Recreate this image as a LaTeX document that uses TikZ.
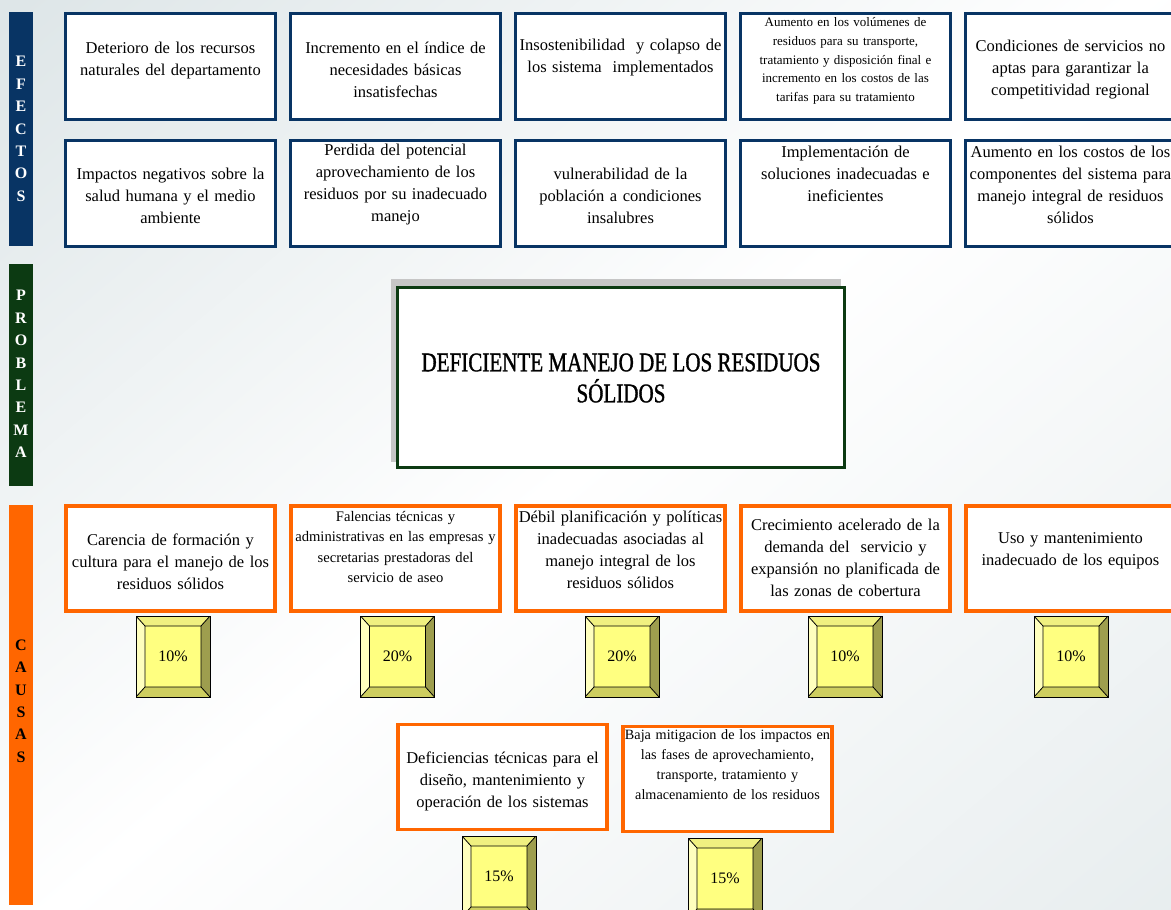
\documentclass[tikz,border=0pt]{standalone}
\usepackage{fontspec}
\setmainfont{Liberation Serif}
\newfontfamily\titulofont[FakeStretch=0.78,FakeBold=1.2]{Liberation Serif}
\usepackage{xcolor}
\definecolor{azul}{RGB}{8,52,100}
\definecolor{verde}{RGB}{12,58,18}
\definecolor{naranja}{RGB}{255,102,0}
\definecolor{fondo}{RGB}{222,230,232}
\definecolor{amarillo}{RGB}{255,255,128}
\definecolor{biselsup}{RGB}{240,240,128}
\definecolor{biselizq}{RGB}{255,255,190}
\definecolor{biselder}{RGB}{158,158,78}
\definecolor{biselinf}{RGB}{206,206,96}
\usetikzlibrary{positioning}

\begin{document}
\begin{tikzpicture}[x=1pt,y=-1pt,
	efecto/.style={draw=azul,line width=3pt,fill=white,minimum width=210pt,minimum height=106pt,inner sep=0pt},
	causa/.style={draw=naranja,line width=3.5pt,fill=white,minimum width=209pt,minimum height=105pt,inner sep=0pt},
	texto/.style={align=center,text width=208pt,inner sep=0pt,font=\fontsize{16.5}{22}\selectfont},
	chico/.style={align=center,text width=208pt,inner sep=0pt,font=\fontsize{13}{18.8}\selectfont},
	medio/.style={align=center,text width=208pt,inner sep=0pt,font=\fontsize{14.6}{20.5}\selectfont},
	barra/.style={minimum width=24pt,inner sep=0pt},
	letras/.style={align=center,inner sep=0pt,font=\bfseries\fontsize{16}{22.4}\selectfont},
	bisel/.style={draw=black,line width=0.9pt,fill=amarillo,minimum width=74pt,minimum height=81pt,inner sep=0pt,
		font=\fontsize{16}{18}\selectfont,
		path picture={
			\path (path picture bounding box.north west) coordinate (nw)
				(path picture bounding box.north east) coordinate (ne)
				(path picture bounding box.south east) coordinate (se)
				(path picture bounding box.south west) coordinate (sw);
			\path ([shift={(9pt,-10pt)}]nw) coordinate (inw)
				([shift={(-9pt,-10pt)}]ne) coordinate (ine)
				([shift={(-9pt,10pt)}]se) coordinate (ise)
				([shift={(9pt,10pt)}]sw) coordinate (isw);
			\fill[biselsup] (nw) -- (ne) -- (ine) -- (inw) -- cycle;
			\fill[biselizq] (nw) -- (inw) -- (isw) -- (sw) -- cycle;
			\fill[biselder] (ne) -- (se) -- (ise) -- (ine) -- cycle;
			\fill[biselinf] (sw) -- (isw) -- (ise) -- (se) -- cycle;
			\draw[line width=0.8pt] (inw) rectangle (ise) (nw) -- (inw) (ne) -- (ine) (se) -- (ise) (sw) -- (isw);
		}}]
	\useasboundingbox (0,0) rectangle (1171,910);
	\clip (0,0) rectangle (1171,910);
	\shade[top color=fondo,bottom color=fondo!70!white,middle color=white,shading angle=40] (-200,-200) rectangle (1400,1100);

	% barras laterales
	\node[barra,fill=azul,minimum height=234pt] (bef) at (21,129) {};
	\node[letras,text=white] (lef) at (21,129) {E\\F\\E\\C\\T\\O\\S};
	\node[barra,fill=verde,minimum height=222pt] (bpr) at (21,375) {};
	\node[letras,text=white] (lpr) at (21,374) {P\\R\\O\\B\\L\\E\\M\\A};
	\node[barra,fill=naranja,minimum height=400pt] (bca) at (21,705) {};
	\node[letras,text=black] (lca) at (21,701) {C\\A\\U\\S\\A\\S};

	% efectos
	\node[efecto] (e1) at (170.5,66.5) {};
	\node[efecto] (e2) at (395.5,66.5) {};
	\node[efecto] (e3) at (620.5,66.5) {};
	\node[efecto] (e4) at (845.5,66.5) {};
	\node[efecto] (e5) at (1070.5,66.5) {};
	\node[efecto] (e6) at (170.5,193) {};
	\node[efecto] (e7) at (395.5,193) {};
	\node[efecto] (e8) at (620.5,193) {};
	\node[efecto] (e9) at (845.5,193) {};
	\node[efecto] (e10) at (1070.5,193) {};
	\node[texto] (te1) at (170.5,61) {Deterioro de los recursos\\naturales del departamento};
	\node[texto] (te2) at (395.5,69.5) {Incremento en el índice de\\necesidades básicas\\insatisfechas};
	\node[texto] (te3) at (620.5,58) {Insostenibilidad\ \ y colapso de\\los sistema\ \ implementados};
	\node[chico] (te4) at (845.5,61) {Aumento en los volúmenes de\\residuos para su transporte,\\tratamiento y disposición final e\\incremento en los costos de las\\tarifas para su tratamiento};
	\node[texto] (te5) at (1070.5,69.5) {Condiciones de servicios no\\aptas para garantizar la\\competitividad regional};
	\node[texto] (te6) at (170.5,196) {Impactos negativos sobre la\\salud humana y el medio\\ambiente};
	\node[texto] (te7) at (395.5,185) {Perdida del potencial\\aprovechamiento de los\\residuos por su inadecuado\\manejo};
	\node[texto] (te8) at (620.5,196) {vulnerabilidad de la\\población a condiciones\\insalubres};
	\node[texto] (te9) at (845.5,174) {Implementación de\\soluciones inadecuadas e\\ineficientes};
	\node[texto] (te10) at (1070.5,185) {Aumento en los costos de los\\componentes del sistema para\\manejo integral de residuos\\sólidos};

	% problema
	\node[fill=gray!45,minimum width=450pt,minimum height=183pt,inner sep=0pt] (sombra) at (615.5,370.5) {};
	\node[draw=verde,line width=3pt,fill=white,minimum width=447pt,minimum height=180pt,inner sep=0pt] (p) at (621,377.5) {};
	\node[align=center,inner sep=0pt,font=\titulofont\fontsize{27}{31}\selectfont] (tp) at (621,378) {DEFICIENTE MANEJO DE LOS RESIDUOS\\SÓLIDOS};

	% causas
	\node[causa] (c1) at (170.5,558.5) {};
	\node[causa] (c2) at (395.5,558.5) {};
	\node[causa] (c3) at (620.5,558.5) {};
	\node[causa] (c4) at (845.5,558.5) {};
	\node[causa] (c5) at (1070.5,558.5) {};
	\node[causa] (c6) at (502.5,777) {};
	\node[causa] (c7) at (727.5,779) {};
	\node[texto] (tc1) at (170.5,562) {Carencia de formación y\\cultura para el manejo de los\\residuos sólidos};
	\node[medio] (tc2) at (395.5,547) {Falencias técnicas y\\administrativas en las empresas y\\secretarias prestadoras del\\servicio de aseo};
	\node[texto] (tc3) at (620.5,550) {Débil planificación y políticas\\inadecuadas asociadas al\\manejo integral de los\\residuos sólidos};
	\node[texto] (tc4) at (845.5,558) {Crecimiento acelerado de la\\demanda del\ \ servicio y\\expansión no planificada de\\las zonas de cobertura};
	\node[texto] (tc5) at (1070.5,551) {Uso y mantenimiento\\inadecuado de los equipos};
	\node[texto] (tc6) at (502.5,781) {Deficiencias técnicas para el\\diseño, mantenimiento y\\operación de los sistemas};
	\node[medio,font=\fontsize{14.2}{20}\selectfont] (tc7) at (727.5,765) {Baja mitigacion de los impactos en\\las fases de aprovechamiento,\\transporte, tratamiento y\\almacenamiento de los residuos};

	% porcentajes
	\node[bisel] (b1) at (173,656.5) {10\%};
	\node[bisel] (b2) at (397.5,656.5) {20\%};
	\node[bisel] (b3) at (622,656.5) {20\%};
	\node[bisel] (b4) at (845,656.5) {10\%};
	\node[bisel] (b5) at (1071,656.5) {10\%};
	\node[bisel] (b6) at (499,876.5) {15\%};
	\node[bisel] (b7) at (725,878.5) {15\%};
\end{tikzpicture}
\end{document}
